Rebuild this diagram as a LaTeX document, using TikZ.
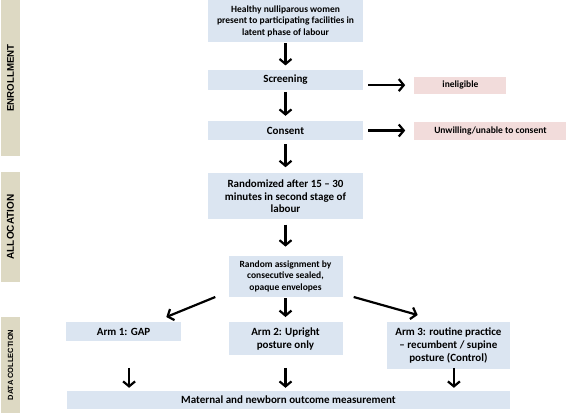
\documentclass[tikz,border=0pt]{standalone}
\usepackage{fontspec}
\setmainfont{Carlito}
\newfontfamily\stagefont{Liberation Sans}
\usetikzlibrary{arrows.meta,positioning,calc}

\definecolor{boxblue}{RGB}{219,229,241}
\definecolor{boxpink}{RGB}{242,220,219}
\definecolor{stagetan}{RGB}{221,217,195}

\tikzset{
  box/.style={fill=boxblue, inner sep=0pt, align=center,
    font=\fontsize{11}{12.7}\selectfont\bfseries},
  excl/.style={fill=boxpink, inner sep=0pt, align=center,
    font=\fontsize{9.5}{11}\selectfont\bfseries},
  stage/.style={fill=stagetan, rotate=90, inner sep=0pt, minimum height=19pt},
  arr/.style={line width=2.2pt, -{Straight Barb[length=5pt,width=12pt]}},
}

\begin{document}
\begin{tikzpicture}[x=1pt, y=-1pt]
    \useasboundingbox (0,0) rectangle (567,413);
    % stages on the left
    \node[stage, minimum width=156pt, font=\stagefont\fontsize{9.7}{10}\selectfont\bfseries] (enroll) at (10.5,78) {ENROLLMENT};
    \node[stage, minimum width=110pt, font=\stagefont\fontsize{10}{10}\selectfont\bfseries] (alloc) at (10.5,227) {ALLOCATION};
    \node[stage, minimum width=96pt, font=\stagefont\fontsize{7.5}{8}\selectfont\bfseries] (datacoll) at (10.5,365) {DATA COLLECTION};

    % main column
    \node[box, minimum width=155pt, minimum height=42pt, font=\fontsize{9.5}{11.7}\selectfont\bfseries, anchor=north] (intake) at (285.5,0)
        {Healthy nulliparous women\\present to participating facilities in\\latent phase of labour};
    \node[box, minimum width=155pt, minimum height=20pt] (screening) [below=27pt of intake] {Screening};
    \node[box, minimum width=155pt, minimum height=19pt] (consent) [below=31pt of screening] {Consent};
    \node[box, minimum width=155pt, minimum height=46pt, font=\fontsize{11}{12.5}\selectfont\bfseries] (randomized) [below=33pt of consent]
        {Randomized after 15 -- 30\\minutes in second stage of\\labour};
    \node[box, minimum width=114pt, minimum height=41pt, font=\fontsize{9.5}{11.3}\selectfont\bfseries] (assign) [below=36pt of randomized]
        {Random assignment by\\consecutive sealed,\\opaque envelopes};

    % exclusions
    \node[excl, minimum width=92pt, minimum height=17pt] (inelig) [right=51pt of screening, yshift=-5.5pt] {ineligible};
    \node[excl, minimum width=152pt, minimum height=18pt] (unwilling) [right=51pt of consent] {Unwilling/unable to consent};

    % arms
    \node[box, minimum width=114pt, minimum height=33pt] (arm2) [below=25pt of assign] {Arm 2: Upright\\posture only};
    \node[box, minimum width=115pt, minimum height=19pt] (arm1) [left=47pt of arm2.north west, anchor=north east] {Arm 1: GAP};
    \node[box, minimum width=123pt, minimum height=47pt, font=\fontsize{11}{13}\selectfont\bfseries] (arm3) [right=44pt of arm2.north east, anchor=north west]
        {Arm 3: routine practice\\-- recumbent / supine\\posture (Control)};
    \node[box, minimum width=443pt, minimum height=18pt] (outcome) at (288.5,400) {Maternal and newborn outcome measurement};

    % arrows
    \draw[arr, shorten <=1pt, shorten >=4pt] (intake) -- (screening);
    \draw[arr, shorten <=2pt, shorten >=5pt] (screening) -- (consent);
    \draw[arr, shorten <=4pt, shorten >=6pt] (consent) -- (randomized);
    \draw[arr, shorten <=5pt, shorten >=9pt] (randomized) -- (assign);
    \draw[arr, shorten <=1pt, shorten >=5pt] (assign) -- (arm2);
    \draw[arr, shorten <=5pt, shorten >=9pt] (screening.east |- inelig.west) -- (inelig.west);
    \draw[arr, shorten <=5pt, shorten >=9pt] (consent.east |- unwilling.west) -- (unwilling.west);
    \draw[arr] ($(assign.south west)+(-13,0)$) -- ($(arm1.north east)+(-15,-5)$);
    \draw[arr] ($(assign.south east)+(11,0)$) -- ($(arm3.north west)+(31,-7)$);
    \foreach \a/\dx in {arm1/5.5, arm2/0, arm3/5.5}
        \draw[arr] ($(\a.south |- outcome.north)+(\dx,-23)$) -- ($(\a.south |- outcome.north)+(\dx,-3)$);
\end{tikzpicture}
\end{document}
